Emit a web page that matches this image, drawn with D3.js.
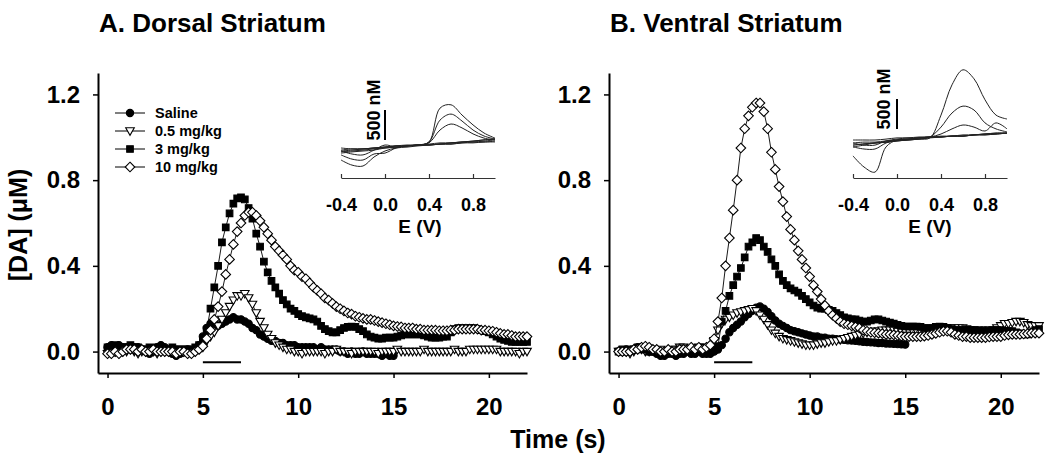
<!DOCTYPE html>
<html><head><meta charset="utf-8">
<script src="https://cdn.jsdelivr.net/npm/d3@7"></script>
<style>
body{margin:0;background:#fff;}
svg{display:block;font-family:"Liberation Sans",Arial,Helvetica,sans-serif;font-weight:bold;}
</style></head><body>
<svg id="chart" width="1047" height="464"></svg>
<script>
// ---------- DATA ----------
const doseLabels = ["Saline", "0.5 mg/kg", "3 mg/kg", "10 mg/kg"];
const timeStep = 0.2;           // s between samples, first sample at t = 0
const timeTicks = [0, 5, 10, 15, 20];
const daTicks = [0, 0.4, 0.8, 1.2];
const stimulus = [5, 7];         // s
const eTicks = [-0.4, 0, 0.4, 0.8];
const cvPotential = [-0.4,-0.3,-0.2,-0.1,0,0.1,0.2,0.3,0.4,0.5,0.6,0.7,0.8,0.9,1.0];

// Dorsal striatum [DA] (uM)
const dorsalSaline = [
0.02,0.03,0.02,0.03,0.02, 0.02,0.01,0.02,0.02,0.01, 0.00,-0.01,0.00,0.02,0.03,
0.02,0.00,-0.01,-0.02,-0.01, 0.00,0.01,0.00,0.01,0.03, 0.07,0.11,0.13,0.13,0.12,
0.13,0.14,0.15,0.16,0.15, 0.15,0.14,0.13,0.11,0.10, 0.08,0.07,0.06,0.05,0.05,
0.04,0.04,0.03,0.03,0.03, 0.02,0.02,0.02,0.02,0.02, 0.01,0.02,0.01,0.01,0.01,
0.01,0.00,0.00,-0.01,0.00, -0.01,-0.01,0.00,-0.01,-0.01, -0.01,-0.01,-0.02,-0.01,-0.02,
-0.02];
const dorsal05 = [
-0.01,-0.01,0.00,-0.01,0.00, 0.00,0.01,0.00,-0.01,0.00, 0.00,0.01,0.00,-0.01,0.00,
0.00,0.00,0.01,0.00,0.00, 0.00,-0.01,-0.01,0.00,0.01, 0.02,0.05,0.07,0.09,0.12,
0.15,0.18,0.21,0.24,0.26, 0.26,0.27,0.25,0.22,0.18, 0.14,0.11,0.08,0.06,0.04,
0.03,0.02,0.01,0.01,0.00, 0.00,-0.01,0.00,0.00,0.00, 0.00,0.00,-0.01,0.00,0.00,
0.01,0.00,0.00,0.00,-0.01, 0.00,0.00,0.00,0.00,0.00, 0.00,-0.01,0.00,0.00,0.00,
0.00,0.01,0.00,0.00,0.00, 0.00,0.00,0.00,0.01,0.00, 0.00,0.00,0.00,0.00,0.00,
0.00,0.01,0.00,0.00,0.00, 0.01,0.01,0.01,0.01,0.01, 0.01,0.01,0.01,0.00,0.00,
0.00,0.00,0.00,-0.01,0.00, 0.00];
const dorsal3 = [
0.02,0.02,0.03,0.02,0.02, 0.02,0.03,0.02,0.02,0.01, 0.01,0.02,0.01,0.02,0.02,
0.01,0.01,0.02,0.01,0.01, 0.01,0.01,0.01,0.02,0.03, 0.05,0.10,0.20,0.30,0.40,
0.51,0.58,0.645,0.69,0.715, 0.72,0.71,0.67,0.62,0.55, 0.49,0.42,0.37,0.33,0.30,
0.27,0.24,0.22,0.20,0.19, 0.175,0.165,0.16,0.155,0.15, 0.14,0.12,0.105,0.095,0.09,
0.09,0.10,0.11,0.115,0.117, 0.115,0.105,0.095,0.08,0.07, 0.065,0.06,0.06,0.065,0.065,
0.065,0.07,0.075,0.08,0.08, 0.08,0.08,0.08,0.075,0.07, 0.065,0.065,0.065,0.07,0.07,
0.09,0.105,0.11,0.11,0.11, 0.11,0.11,0.105,0.10,0.095, 0.09,0.08,0.07,0.06,0.055,
0.05,0.045,0.045,0.045,0.045, 0.045];
const dorsal10 = [
-0.01,-0.01,0.00,-0.01,0.00, 0.01,0.01,0.01,0.00,0.01, 0.00,0.00,0.01,0.00,0.00,
0.00,0.00,0.00,-0.01,0.00, 0.00,-0.01,-0.01,0.00,0.01, 0.025,0.06,0.10,0.15,0.21,
0.28,0.36,0.43,0.50,0.56, 0.60,0.635,0.65,0.65,0.635, 0.61,0.58,0.55,0.52,0.49,
0.47,0.45,0.43,0.40,0.38, 0.37,0.35,0.34,0.32,0.30, 0.285,0.27,0.25,0.24,0.225,
0.21,0.20,0.19,0.18,0.175, 0.165,0.16,0.155,0.15,0.15, 0.145,0.14,0.135,0.13,0.125,
0.12,0.117,0.115,0.11,0.11, 0.11,0.105,0.105,0.10,0.10, 0.10,0.10,0.097,0.097,0.097,
0.10,0.10,0.105,0.105,0.105, 0.105,0.105,0.105,0.10,0.10, 0.097,0.095,0.09,0.085,0.08,
0.08,0.075,0.07,0.07,0.07, 0.07];

// Ventral striatum [DA] (uM)
const ventralSaline = [
0.00,0.00,0.01,0.00,0.01, 0.02,0.02,0.01,0.00,0.00, -0.01,-0.02,-0.02,-0.01,-0.01,
-0.02,-0.01,-0.01,0.00,-0.01, -0.01,0.00,-0.01,-0.01,-0.01, 0.00,0.01,0.03,0.06,0.09,
0.11,0.125,0.14,0.16,0.175, 0.19,0.205,0.21,0.20,0.185, 0.165,0.145,0.13,0.12,0.11,
0.10,0.095,0.09,0.085,0.08, 0.075,0.07,0.07,0.065,0.065, 0.06,0.06,0.058,0.056,0.055,
0.053,0.052,0.05,0.048,0.046, 0.045,0.043,0.042,0.04,0.04, 0.038,0.037,0.036,0.035,0.034,
0.033];
const ventral05 = [
0.00,0.00,0.00,-0.01,0.00, 0.01,0.01,0.00,0.00,0.01, 0.00,0.01,0.00,0.00,0.01,
0.01,0.02,0.02,0.01,0.01, 0.01,0.02,0.01,0.01,0.02, 0.05,0.10,0.13,0.15,0.16,
0.17,0.18,0.185,0.19,0.195, 0.20,0.19,0.17,0.15,0.125, 0.10,0.085,0.07,0.06,0.055,
0.05,0.045,0.04,0.035,0.03, 0.03,0.03,0.035,0.04,0.04, 0.045,0.05,0.05,0.055,0.06,
0.065,0.07,0.075,0.08,0.085, 0.09,0.09,0.095,0.095,0.10, 0.10,0.10,0.10,0.095,0.095,
0.095,0.095,0.095,0.095,0.095, 0.095,0.10,0.10,0.105,0.11, 0.11,0.11,0.11,0.11,0.11,
0.11,0.105,0.10,0.10,0.10, 0.10,0.10,0.10,0.10,0.11, 0.12,0.13,0.13,0.135,0.14,
0.14,0.135,0.125,0.12,0.12, 0.12];
const ventral3 = [
0.00,0.01,0.00,0.01,0.01, 0.02,0.01,0.01,0.00,0.00, 0.00,-0.01,-0.01,0.00,0.00,
0.00,0.01,0.01,0.00,0.01, 0.01,0.01,0.02,0.01,0.01, 0.01,0.025,0.14,0.19,0.26,
0.31,0.35,0.39,0.44,0.49, 0.51,0.53,0.52,0.49,0.465, 0.43,0.40,0.36,0.33,0.31,
0.295,0.285,0.275,0.26,0.245, 0.23,0.215,0.205,0.20,0.20, 0.195,0.19,0.18,0.17,0.16,
0.155,0.15,0.15,0.145,0.14, 0.14,0.145,0.15,0.15,0.145, 0.14,0.135,0.13,0.125,0.12,
0.117,0.117,0.117,0.117,0.115, 0.11,0.11,0.11,0.115,0.117, 0.115,0.11,0.105,0.10,0.10,
0.10,0.10,0.10,0.10,0.097, 0.095,0.095,0.095,0.10,0.10, 0.10,0.097,0.095,0.095,0.09,
0.085,0.08,0.08,0.09,0.10, 0.105];
const ventral10 = [
0.00,0.00,0.00,0.00,0.01, 0.01,0.02,0.025,0.02,0.01, 0.01,0.00,0.00,0.01,0.00,
0.00,0.01,0.01,0.01,0.02, 0.01,0.02,0.01,0.02,0.03, 0.06,0.14,0.25,0.40,0.53,
0.66,0.80,0.95,1.04,1.10, 1.14,1.16,1.16,1.12,1.04, 0.93,0.85,0.77,0.70,0.63,
0.57,0.52,0.47,0.43,0.39, 0.35,0.31,0.28,0.245,0.215, 0.19,0.17,0.155,0.14,0.13,
0.125,0.12,0.115,0.11,0.10, 0.095,0.09,0.088,0.086,0.084, 0.08,0.08,0.078,0.075,0.072,
0.07,0.07,0.07,0.07,0.07, 0.072,0.075,0.08,0.085,0.09, 0.095,0.095,0.09,0.08,0.075,
0.07,0.07,0.065,0.065,0.065, 0.065,0.065,0.068,0.07,0.07, 0.07,0.075,0.078,0.08,0.08,
0.08,0.082,0.084,0.086,0.086, 0.086];

// Cyclic voltammograms (current as nM-equivalent) at cvPotential
const dorsalCvForward = [
[-135,-115,-100,-85,-50,-35,-15,0,50,615,670,500,335,200,115],
[-115,-100,-85,-65,-50,-35,-15,0,50,415,515,400,250,150,100],
[-85,-65,-65,-50,-35,-15,-15,0,35,250,350,285,185,115,85],
[-100,-85,-65,-50,-35,-15,0,0,15,35,35,50,65,85,100]];
const dorsalCvReverse = [
[-250,-335,-350,-200,-100,-50,-35,-15,0,15,35,50,65,85,100],
[-165,-235,-250,-150,-135,-50,-15,0,0,15,35,50,50,65,85],
[-100,-150,-165,-85,0,-35,-15,0,0,15,15,35,50,50,65],
[-50,-65,-65,-50,-35,-15,-15,0,0,15,15,35,35,50,50]];
const ventralCvForward = [
[-165,-135,-100,-85,-65,-50,-35,-15,365,870,1120,970,620,365,300],
[-135,-115,-100,-85,-65,-50,-35,0,165,400,515,450,235,135,85],
[-100,-85,-85,-65,-50,-35,-15,0,50,135,200,165,100,235,135],
[-135,-115,-100,-85,-65,-50,-35,-15,0,15,15,35,50,65,65]];
const ventralCvReverse = [
[-315,-500,-585,-165,-50,-35,-15,0,15,15,35,35,50,65,65],
[-165,-200,-200,-100,-50,-35,-15,0,0,15,15,35,50,50,65],
[-100,-135,-135,-65,-35,-15,-15,0,0,15,15,35,35,50,65],
[-50,-50,-50,-35,-15,-15,0,0,0,15,15,35,35,50,65]];
const scaleBarNM = 500;

// ---------- DRAWING ----------
const svg = d3.select("#chart");
svg.append("rect").attr("width", 1047).attr("height", 464).attr("fill", "#fff");

const y = d3.scaleLinear().domain([-0.1, 1.3]).range([373, 73]);

const markerShapes = [
  {d: d3.symbol(d3.symbolCircle, 42)(), fill: "#000"},
  {d: "M-4.3,-3.2L4.3,-3.2L0,4.3Z", fill: "#fff"},
  {d: "M-3.3,-3.3H3.3V3.3H-3.3Z", fill: "#000"},
  {d: "M0,-4.8L4.8,0L0,4.8L-4.8,0Z", fill: "#fff"}
];

const panels = [
  {title: "A. Dorsal Striatum", titleX: 99, range: [98, 527],
   series: [dorsalSaline, dorsal05, dorsal3, dorsal10], legend: true,
   inset: {x: [341, 495], base: 145, barX: 385, barBottom: 140, textX: 380, textY: 110, labelX: 420,
           fwd: dorsalCvForward, rev: dorsalCvReverse}},
  {title: "B. Ventral Striatum", titleX: 610, range: [609, 1039],
   series: [ventralSaline, ventral05, ventral3, ventral10], legend: false,
   inset: {x: [853, 1007], base: 137, barX: 897, barBottom: 129, textX: 890, textY: 99, labelX: 930,
           fwd: ventralCvForward, rev: ventralCvReverse}}
];

panels.forEach(p => {
  const x = d3.scaleLinear().domain([-0.5, 22]).range(p.range);
  const g = svg.append("g");

  g.append("text").attr("x", p.titleX).attr("y", 32).attr("font-size", 26).text(p.title);

  // axes
  const xa = g.append("g").attr("transform", "translate(0,373)")
    .call(d3.axisBottom(x).tickValues(timeTicks).tickSize(5).tickSizeOuter(0).tickPadding(20)
      .tickFormat(d => String(d)));
  const ya = g.append("g").attr("transform", `translate(${p.range[0]},0)`)
    .call(d3.axisLeft(y).tickValues(daTicks).tickSize(5).tickSizeOuter(0).tickPadding(13)
      .tickFormat(d => d.toFixed(1)));
  [xa, ya].forEach(a => {
    a.attr("font-size", 24).attr("font-family", null).attr("font-weight", "bold");
    a.select(".domain").attr("stroke-width", 2);
    a.selectAll(".tick line").attr("stroke-width", 1.5);
    a.selectAll(".tick text").attr("fill", "#000");
  });

  // stimulus bar
  g.append("line").attr("x1", x(stimulus[0])).attr("x2", x(stimulus[1]))
    .attr("y1", y(-0.05)).attr("y2", y(-0.05)).attr("stroke", "#000").attr("stroke-width", 2);

  // series
  const line = d3.line().x((d, i) => x(i * timeStep)).y(d => y(d));
  p.series.forEach((vals, k) => {
    g.append("path").attr("d", line(vals)).attr("fill", "none")
      .attr("stroke", "#000").attr("stroke-width", 0.9);
    g.selectAll(null).data(vals).enter().append("path")
      .attr("transform", (d, i) => `translate(${x(i * timeStep)},${y(d)})`)
      .attr("d", markerShapes[k].d).attr("fill", markerShapes[k].fill)
      .attr("stroke", "#000").attr("stroke-width", 1.1);
  });

  // legend
  if (p.legend) {
    doseLabels.forEach((lab, k) => {
      const ly = 113 + k * 18;
      g.append("line").attr("x1", 115).attr("x2", 145).attr("y1", ly).attr("y2", ly)
        .attr("stroke", "#000").attr("stroke-width", 1);
      g.append("path").attr("transform", `translate(130,${ly})`).attr("d", markerShapes[k].d)
        .attr("fill", markerShapes[k].fill).attr("stroke", "#000").attr("stroke-width", 1.1);
      g.append("text").attr("x", 155).attr("y", ly + 5).attr("font-size", 14.5).text(lab);
    });
  }

  // inset voltammograms
  const ins = p.inset;
  const ex = d3.scaleLinear().domain([-0.4, 1.0]).range(ins.x);
  const ey = d3.scaleLinear().domain([0, scaleBarNM]).range([ins.base, ins.base - 30]);
  const ia = g.append("g").attr("transform", "translate(0,178)")
    .call(d3.axisBottom(ex).tickValues(eTicks).tickSizeInner(-4).tickSizeOuter(0).tickPadding(20)
      .tickFormat(d => d.toFixed(1)));
  ia.attr("font-size", 18).attr("font-family", null).attr("font-weight", "bold");
  ia.select(".domain").attr("stroke", "#333").attr("stroke-width", 1.2);
  ia.selectAll(".tick line").attr("stroke", "#333").attr("stroke-width", 1.2);
  g.append("text").attr("x", ins.labelX).attr("y", 233).attr("text-anchor", "middle")
    .attr("font-size", 19).text("E (V)");
  const cvLine = d3.line().x((d, i) => ex(cvPotential[i])).y(d => ey(d))
    .curve(d3.curveCatmullRom.alpha(0.5));
  ins.fwd.concat(ins.rev).forEach(c => {
    g.append("path").attr("d", cvLine(c)).attr("fill", "none")
      .attr("stroke", "#222").attr("stroke-width", 1);
  });
  // scale bar
  g.append("line").attr("x1", ins.barX).attr("x2", ins.barX)
    .attr("y1", ins.barBottom).attr("y2", ins.barBottom - (ey(0) - ey(scaleBarNM)))
    .attr("stroke", "#000").attr("stroke-width", 2);
  g.append("text").attr("transform", `translate(${ins.textX},${ins.textY}) rotate(-90)`)
    .attr("text-anchor", "middle").attr("font-size", 18).text("500 nM");
});

// shared labels
svg.append("text").attr("transform", "translate(27,225) rotate(-90)")
  .attr("text-anchor", "middle").attr("font-size", 25).text("[DA] (\u03BCM)");
svg.append("text").attr("x", 558).attr("y", 448).attr("text-anchor", "middle")
  .attr("font-size", 25).text("Time (s)");
</script>
</body></html>
